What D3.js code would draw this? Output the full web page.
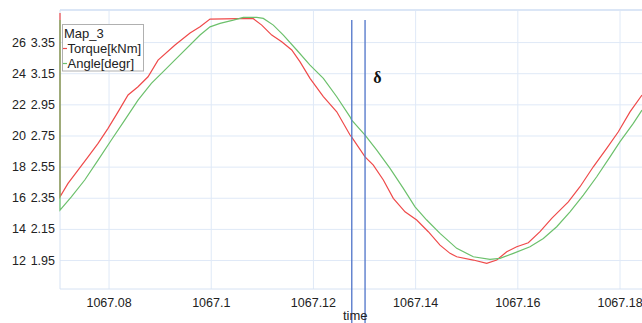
<!DOCTYPE html>
<html>
<head>
<meta charset="utf-8">
<script src="https://cdn.jsdelivr.net/npm/d3@7"></script>
<style>
  html, body { margin: 0; padding: 0; background: #fff; }
  svg { display: block; font-family: "Liberation Sans", Arial, sans-serif; }
  .domain { display: none; }
</style>
</head>
<body>
<svg id="chart" width="642" height="323"></svg>
<script>
// Time axis ticks
const timeTicks = [1067.08, 1067.10, 1067.12, 1067.14, 1067.16, 1067.18];
const timeTickLabels = ["1067.08", "1067.1", "1067.12", "1067.14", "1067.16", "1067.18"];

// Left value columns: torque [kNm] and angle [degr]
const torqueTicks = [12, 14, 16, 18, 20, 22, 24, 26];
const angleTicks = [1.95, 2.15, 2.35, 2.55, 2.75, 2.95, 3.15, 3.35];
const angleTickLabels = ["1.95", "2.15", "2.35", "2.55", "2.75", "2.95", "3.15", "3.35"];

// Torque[kNm] samples
const torqueTime = [1067.0705, 1067.0705, 1067.07207, 1067.07403, 1067.07599, 1067.07795, 1067.0799,
  1067.08186, 1067.08382, 1067.08577, 1067.08773, 1067.08969, 1067.09301, 1067.09595, 1067.09791,
  1067.09986, 1067.10828, 1067.10998, 1067.11194, 1067.11389, 1067.11585, 1067.11748, 1067.11943,
  1067.12204, 1067.12466, 1067.12726, 1067.12759, 1067.1302, 1067.13182, 1067.13378, 1067.13573,
  1067.13802, 1067.14031, 1067.14258, 1067.14487, 1067.14683, 1067.14814, 1067.15139, 1067.15401,
  1067.15597, 1067.15793, 1067.15988, 1067.16215, 1067.16444, 1067.16673, 1067.16998, 1067.17227,
  1067.17487, 1067.17749, 1067.17977, 1067.18205, 1067.1844];
const torque = [27.86, 16.06, 16.92, 17.78, 18.63, 19.49, 20.46,
  21.52, 22.60, 23.13, 23.77, 24.84, 25.81, 26.58, 26.98,
  27.48, 27.52, 27.09, 26.45, 26.02, 25.49, 24.73, 23.67,
  22.49, 21.52, 20.03, 19.9, 18.63, 18.10, 17.14, 15.96,
  15.10, 14.57, 13.82, 12.96, 12.43, 12.21, 12.00, 11.79,
  12.00, 12.53, 12.85, 13.11, 13.82, 14.68, 15.74, 16.71,
  17.99, 19.17, 20.24, 21.52, 22.60];

// Angle[degr] samples
const angleTime = [1067.0705, 1067.0705, 1067.07272, 1067.07534, 1067.07795, 1067.08055, 1067.08317,
  1067.08577, 1067.08838, 1067.091, 1067.09296, 1067.09791, 1067.09986, 1067.10182, 1067.10442,
  1067.10638, 1067.109, 1067.11029, 1067.11225, 1067.11421, 1067.11683, 1067.11943, 1067.12204,
  1067.12466, 1067.12726, 1067.12759, 1067.1302, 1067.13249, 1067.13509, 1067.13769, 1067.13998,
  1067.14227, 1067.14487, 1067.14814, 1067.15139, 1067.15465, 1067.15661, 1067.15922, 1067.16248,
  1067.16509, 1067.16771, 1067.17031, 1067.17292, 1067.17554, 1067.17814, 1067.1801, 1067.1827,
  1067.1844];
const angle = [3.491, 2.271, 2.356, 2.464, 2.592, 2.721, 2.849,
  2.977, 3.085, 3.170, 3.234, 3.395, 3.448, 3.470, 3.491,
  3.509, 3.509, 3.502, 3.459, 3.395, 3.299, 3.202, 3.117,
  2.999, 2.870, 2.849, 2.753, 2.656, 2.539, 2.410, 2.292,
  2.207, 2.121, 2.025, 1.971, 1.954, 1.961, 1.993, 2.035,
  2.089, 2.164, 2.260, 2.367, 2.485, 2.613, 2.710, 2.828,
  2.913];

// Cursor positions on the time axis
const cursorTimes = [1067.1276, 1067.1302];

const svg = d3.select("#chart");
const plotLeft = 60, plotRight = 642, plotTop = 10, plotBottom = 289;
const fontFamily = "Liberation Sans, Arial, sans-serif";

const x = d3.scaleLinear().domain([1067.0705, 1067.1844]).range([plotLeft, plotRight]);
const yT = d3.scaleLinear().domain([10.14, 28.06]).range([plotBottom, plotTop]);
const yA = d3.scaleLinear().domain([1.764, 3.556]).range([plotBottom, plotTop]);

// grid
const gridX = svg.append("g")
  .attr("transform", `translate(0,${plotBottom})`)
  .call(d3.axisBottom(x).tickValues(timeTicks).tickSize(-(plotBottom - plotTop)).tickFormat(""));
gridX.selectAll("line").attr("stroke", "#dfe9f7");
const gridY = svg.append("g")
  .attr("transform", `translate(${plotLeft},0)`)
  .call(d3.axisLeft(yT).tickValues(torqueTicks).tickSize(-(plotRight - plotLeft)).tickFormat(""));
gridY.selectAll("line").attr("stroke", "#dfe9f7");

// frame lines
svg.append("line").attr("x1", plotLeft).attr("x2", plotRight).attr("y1", plotTop).attr("y2", plotTop)
  .attr("stroke", "#dbe6f6").attr("stroke-width", 2);
svg.append("line").attr("x1", plotLeft).attr("x2", plotRight).attr("y1", plotBottom).attr("y2", plotBottom)
  .attr("stroke", "#d6e2f3").attr("stroke-width", 1);
svg.append("line").attr("x1", plotLeft).attr("x2", plotLeft).attr("y1", plotTop).attr("y2", plotBottom)
  .attr("stroke", "#d6e2f3").attr("stroke-width", 1);

// tick labels
const xAxis = svg.append("g")
  .attr("transform", `translate(0,${plotBottom})`)
  .call(d3.axisBottom(x).tickValues(timeTicks).tickSize(0).tickPadding(9)
    .tickFormat((d, i) => timeTickLabels[i]));

const yAxisT = svg.append("g")
  .attr("transform", "translate(26,0)")
  .call(d3.axisLeft(yT).tickValues(torqueTicks).tickSize(0).tickPadding(0));

const yAxisA = svg.append("g")
  .attr("transform", "translate(55,0)")
  .call(d3.axisLeft(yA).tickValues(angleTicks).tickSize(0).tickPadding(0)
    .tickFormat((d, i) => angleTickLabels[i]));

[xAxis, yAxisT, yAxisA].forEach(g => {
  g.selectAll("text").attr("font-size", 12.5).attr("fill", "#222").attr("font-family", fontFamily);
  g.selectAll(".tick line").remove();
});

// series
svg.append("clipPath").attr("id", "plotClip")
  .append("rect").attr("x", plotLeft - 1).attr("y", 0)
  .attr("width", plotRight - plotLeft + 2).attr("height", plotBottom);

const lineT = d3.line().x((d, i) => x(torqueTime[i])).y(d => yT(d));
const lineA = d3.line().x((d, i) => x(angleTime[i])).y(d => yA(d));

svg.append("path").datum(torque).attr("d", lineT)
  .attr("fill", "none").attr("stroke", "#ef4a4a").attr("stroke-width", 1.2)
  .attr("clip-path", "url(#plotClip)");
svg.append("path").datum(angle).attr("d", lineA)
  .attr("fill", "none").attr("stroke", "#6cc06c").attr("stroke-width", 1.2)
  .attr("clip-path", "url(#plotClip)");

// cursors
svg.selectAll(".cursor").data(cursorTimes).enter().append("line")
  .attr("class", "cursor")
  .attr("x1", d => x(d)).attr("x2", d => x(d))
  .attr("y1", 20).attr("y2", 323)
  .attr("stroke", "#5a7dcc").attr("stroke-width", 1.4);

svg.append("text").attr("x", 343).attr("y", 320)
  .attr("font-size", 13).attr("fill", "#222").attr("font-family", fontFamily).text("time");

svg.append("text").attr("x", 377.5).attr("y", 83)
  .attr("text-anchor", "middle")
  .attr("font-family", "Liberation Serif, Times New Roman, serif")
  .attr("font-weight", "bold").attr("font-size", 16).attr("fill", "#111").text("δ");

// legend
const legend = svg.append("g");
legend.append("rect").attr("x", 62.5).attr("y", 24.5).attr("width", 81).attr("height", 46.5)
  .attr("fill", "#fff").attr("stroke", "#b0b0b0").attr("stroke-width", 1);
legend.append("text").attr("x", 64).attr("y", 38).attr("font-size", 13).attr("fill", "#222")
  .attr("font-family", fontFamily).text("Map_3");
const legendItems = [
  { name: "Torque[kNm]", color: "#ef4a4a" },
  { name: "Angle[degr]", color: "#6cc06c" }
];
legendItems.forEach((it, i) => {
  const yb = 53 + i * 15;
  legend.append("line").attr("x1", 63).attr("x2", 67).attr("y1", yb - 4.5).attr("y2", yb - 4.5)
    .attr("stroke", it.color).attr("stroke-width", 1.2);
  legend.append("text").attr("x", 67.5).attr("y", yb).attr("font-size", 13).attr("fill", "#222")
    .attr("font-family", fontFamily).text(it.name);
});
</script>
</body>
</html>
